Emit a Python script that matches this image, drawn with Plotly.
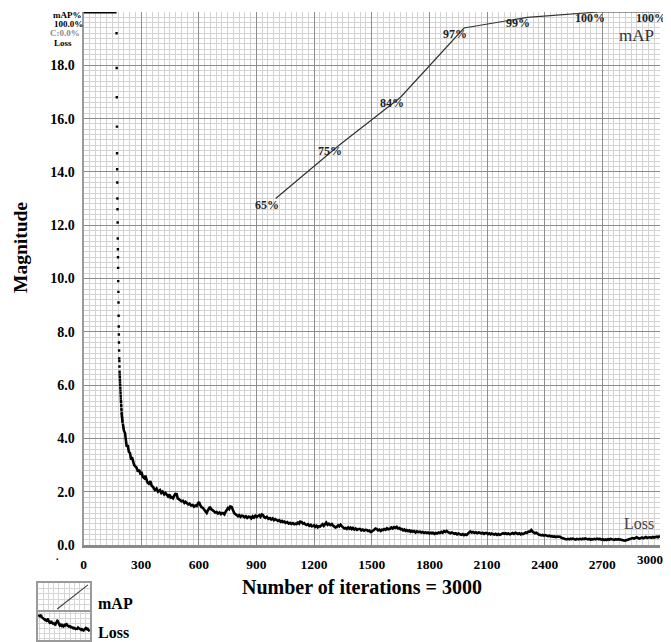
import plotly.graph_objects as go

# ---------------- data ----------------
x_ticks = [0, 300, 600, 900, 1200, 1500, 1800, 2100, 2400, 2700, 3000]
y_ticks = [0, 2, 4, 6, 8, 10, 12, 14, 16, 18]

# mAP evaluations (percent)
map_iters = [1000, 1330, 1650, 1980, 2310, 2680, 3000]
map_vals = [65, 75, 84, 97, 99, 100, 100]

# early loss values (drawn as separate dots)
dot_iters = [172.0, 172.6, 173.2, 173.9, 174.5, 175.1, 175.8, 176.4, 177.0, 177.7,
             178.3, 178.9, 179.6, 180.2, 180.8, 181.5, 182.1, 182.7, 183.4, 184.0,
             184.6, 185.3, 185.9, 186.5, 187.2, 187.8, 188.4, 189.1, 189.7, 190.3,
             191.0, 191.6, 192.2, 192.9, 193.5, 194.1, 194.8, 195.4, 196.0, 196.7,
             197.3, 197.9, 198.6, 199.2, 199.8, 200.5, 201.1, 201.7, 202.4, 203.0]
dot_vals = [19.2, 17.9, 16.8, 15.7, 14.7, 14.1, 13.6, 13.0, 12.6, 12.1,
            11.5, 11.1, 10.8, 10.4, 9.9, 9.5, 9.1, 8.6, 8.2, 7.9,
            7.6, 7.3, 7.0, 6.9, 6.7, 6.5, 6.4, 6.3, 6.2, 6.1,
            6.0, 5.9, 5.8, 5.7, 5.6, 5.5, 5.4, 5.35, 5.25, 5.2,
            5.1, 5.05, 4.95, 4.9, 4.85, 4.8, 4.75, 4.7, 4.65, 4.6]

loss_iters = [205, 210, 216, 220, 225, 230, 236, 242, 248, 252,
              258, 264, 270, 277, 283, 290, 296, 303, 309, 316,
              322, 328, 332, 340, 348, 355, 362, 368, 372, 380,
              388, 398, 405, 412, 420, 427, 433, 440, 447, 453,
              459, 466, 472, 478, 485, 490, 496, 502, 510, 518,
              525, 531, 537, 545, 552, 560, 568, 575, 582, 589,
              595, 601, 607, 614, 622, 628, 634, 641, 646, 652,
              658, 664, 670, 677, 685, 693, 700, 708, 715, 720,
              726, 733, 740, 746, 752, 758, 764, 771, 777, 784,
              790, 797, 804, 810, 817, 823, 830, 838, 845, 852,
              859, 866, 873, 880, 887, 894, 901, 908, 915, 921,
              928, 934, 940, 947, 954, 962, 970, 977, 984, 991,
              998, 1005, 1012, 1019, 1026, 1033, 1038, 1045, 1052, 1060,
              1068, 1075, 1082, 1090, 1097, 1103, 1109, 1116, 1122, 1128,
              1135, 1142, 1148, 1155, 1161, 1168, 1175, 1182, 1188, 1194,
              1200, 1206, 1213, 1219, 1225, 1231, 1238, 1244, 1250, 1257,
              1263, 1270, 1277, 1284, 1292, 1298, 1304, 1311, 1318, 1325,
              1331, 1338, 1344, 1350, 1357, 1363, 1370, 1377, 1384, 1390,
              1396, 1402, 1409, 1416, 1423, 1430, 1439, 1446, 1453, 1460,
              1467, 1474, 1481, 1488, 1494, 1500, 1507, 1514, 1520, 1526,
              1533, 1540, 1547, 1553, 1558, 1565, 1572, 1579, 1586, 1595,
              1602, 1609, 1616, 1623, 1630, 1637, 1644, 1650, 1656, 1663,
              1670, 1676, 1682, 1689, 1696, 1702, 1708, 1714, 1721, 1728,
              1735, 1742, 1751, 1758, 1765, 1772, 1779, 1786, 1793, 1800,
              1807, 1813, 1819, 1826, 1833, 1840, 1848, 1855, 1862, 1869,
              1876, 1883, 1890, 1897, 1904, 1910, 1917, 1923, 1930, 1937,
              1944, 1951, 1959, 1966, 1973, 1980, 1987, 1994, 2000, 2007,
              2013, 2020, 2027, 2035, 2042, 2049, 2056, 2063, 2070, 2077,
              2084, 2091, 2098, 2105, 2112, 2119, 2125, 2131, 2138, 2145,
              2152, 2159, 2167, 2174, 2183, 2190, 2197, 2204, 2211, 2219,
              2226, 2233, 2240, 2247, 2254, 2261, 2268, 2275, 2281, 2287,
              2294, 2301, 2308, 2315, 2323, 2330, 2337, 2343, 2349, 2356,
              2362, 2369, 2375, 2382, 2389, 2396, 2403, 2410, 2417, 2424,
              2431, 2437, 2443, 2450, 2457, 2464, 2471, 2480, 2487, 2494,
              2500, 2507, 2514, 2521, 2528, 2535, 2541, 2547, 2554, 2561,
              2568, 2576, 2584, 2591, 2598, 2605, 2611, 2618, 2625, 2632,
              2639, 2645, 2651, 2658, 2665, 2672, 2680, 2688, 2695, 2702,
              2709, 2716, 2722, 2729, 2736, 2742, 2749, 2755, 2762, 2769,
              2776, 2784, 2792, 2799, 2806, 2812, 2818, 2824, 2831, 2838,
              2844, 2851, 2858, 2865, 2872, 2879, 2886, 2893, 2900, 2906,
              2912, 2919, 2926, 2933, 2940, 2948, 2955, 2962, 2969, 2976,
              2983, 2990, 3000]
loss_vals = [4.55, 4.3, 4.2, 3.9, 3.68, 3.75, 3.5, 3.45, 3.2, 3.3,
             3.08, 3.0, 2.95, 2.89, 2.75, 2.82, 2.68, 2.70, 2.55, 2.51,
             2.6, 2.4, 2.36, 2.3, 2.4, 2.22, 2.18, 2.10, 2.06, 2.12,
             2.0, 2.06, 1.95, 2.0, 1.9, 1.95, 1.88, 1.82, 1.9, 1.78,
             1.80, 1.75, 1.85, 1.92, 1.91, 1.75, 1.72, 1.69, 1.64, 1.66,
             1.58, 1.62, 1.58, 1.52, 1.55, 1.48, 1.5, 1.44, 1.48, 1.46,
             1.55, 1.61, 1.5, 1.42, 1.39, 1.32, 1.25, 1.20, 1.28, 1.38,
             1.43, 1.35, 1.3, 1.28, 1.22, 1.24, 1.18, 1.22, 1.16, 1.2,
             1.20, 1.15, 1.25, 1.32, 1.39, 1.35, 1.45, 1.43, 1.3, 1.2,
             1.16, 1.13, 1.08, 1.12, 1.06, 1.1, 1.09, 1.04, 1.08, 1.02,
             1.06, 1.05, 1.0, 1.08, 1.03, 1.1, 1.05, 1.09, 1.12, 1.06,
             1.15, 1.13, 1.05, 1.02, 1.06, 0.98, 1.01, 0.96, 1.0, 0.93,
             0.97, 0.94, 0.9, 0.93, 0.87, 0.9, 0.86, 0.88, 0.83, 0.86,
             0.8, 0.83, 0.79, 0.82, 0.78, 0.8, 0.79, 0.84, 0.8, 0.88,
             0.86, 0.8, 0.82, 0.77, 0.75, 0.78, 0.72, 0.76, 0.7, 0.71,
             0.74, 0.68, 0.72, 0.66, 0.7, 0.69, 0.74, 0.78, 0.72, 0.79,
             0.84, 0.76, 0.8, 0.75, 0.79, 0.73, 0.7, 0.66, 0.68, 0.74,
             0.7, 0.76, 0.71, 0.66, 0.62, 0.64, 0.60, 0.66, 0.61, 0.65,
             0.6, 0.64, 0.58, 0.62, 0.57, 0.6, 0.6, 0.55, 0.58, 0.54,
             0.57, 0.56, 0.52, 0.54, 0.49, 0.5, 0.55, 0.58, 0.62, 0.6,
             0.55, 0.58, 0.53, 0.57, 0.56, 0.6, 0.57, 0.63, 0.59, 0.61,
             0.66, 0.62, 0.67, 0.64, 0.68, 0.62, 0.64, 0.59, 0.60, 0.55,
             0.58, 0.53, 0.56, 0.52, 0.55, 0.5, 0.53, 0.50, 0.52, 0.47,
             0.51, 0.48, 0.5, 0.47, 0.49, 0.45, 0.48, 0.45, 0.47, 0.43,
             0.46, 0.44, 0.46, 0.42, 0.45, 0.43, 0.47, 0.45, 0.49, 0.46,
             0.52, 0.49, 0.53, 0.48, 0.46, 0.44, 0.47, 0.45, 0.42, 0.44,
             0.4, 0.43, 0.41, 0.38, 0.41, 0.37, 0.4, 0.38, 0.42, 0.46,
             0.51, 0.47, 0.49, 0.45, 0.48, 0.44, 0.47, 0.46, 0.43, 0.46,
             0.42, 0.45, 0.45, 0.41, 0.44, 0.4, 0.43, 0.41, 0.39, 0.42,
             0.38, 0.41, 0.38, 0.41, 0.44, 0.42, 0.44, 0.41, 0.43, 0.40,
             0.43, 0.45, 0.42, 0.46, 0.44, 0.41, 0.44, 0.4, 0.43, 0.41,
             0.44, 0.47, 0.45, 0.5, 0.5, 0.56, 0.5, 0.47, 0.44, 0.46,
             0.41, 0.39, 0.38, 0.36, 0.38, 0.35, 0.37, 0.34, 0.33, 0.35,
             0.32, 0.33, 0.31, 0.32, 0.3, 0.32, 0.31, 0.31, 0.27, 0.25,
             0.23, 0.21, 0.21, 0.23, 0.21, 0.24, 0.22, 0.24, 0.22, 0.2,
             0.23, 0.21, 0.23, 0.21, 0.24, 0.22, 0.25, 0.24, 0.21, 0.23,
             0.2, 0.22, 0.21, 0.23, 0.21, 0.24, 0.22, 0.23, 0.2, 0.22,
             0.19, 0.21, 0.19, 0.22, 0.2, 0.23, 0.21, 0.21, 0.19, 0.22,
             0.2, 0.22, 0.21, 0.18, 0.2, 0.17, 0.16, 0.18, 0.2, 0.22,
             0.21, 0.24, 0.26, 0.24, 0.28, 0.29, 0.26, 0.24, 0.26, 0.28,
             0.25, 0.27, 0.3, 0.27, 0.29, 0.29, 0.27, 0.3, 0.28, 0.31,
             0.31, 0.29, 0.34]

# ---------------- layout helpers ----------------
# the page body adds an 8px offset, so the figure is drawn 8px smaller
OFF = 8
W, H = 671 - OFF, 642 - OFF
def fx(p):
    return (p - OFF) / W
def fy(p):
    return 1 - (p - OFF) / H

SERIF = "Liberation Serif"
MAJOR = "#8c8c8c"
MINOR = "#d3d3d3"

fig = go.Figure()

# main loss curve
fig.add_trace(go.Scatter(x=loss_iters, y=loss_vals, mode="lines",
                         line=dict(color="black", width=2.6),
                         xaxis="x", yaxis="y", showlegend=False, hoverinfo="skip"))
# early loss dots
fig.add_trace(go.Scatter(x=dot_iters, y=dot_vals, mode="markers",
                         marker=dict(color="black", size=2.4, symbol="square"),
                         xaxis="x", yaxis="y", showlegend=False, hoverinfo="skip"))
# mAP curve
fig.add_trace(go.Scatter(x=map_iters, y=map_vals, mode="lines",
                         line=dict(color="#333333", width=1.2),
                         xaxis="x", yaxis="y2", showlegend=False, hoverinfo="skip"))

# legend icon: mAP (diagonal sample)
fig.add_trace(go.Scatter(x=[0.37, 0.96], y=[0.04, 0.93], mode="lines",
                         line=dict(color="#444444", width=1.2),
                         xaxis="x3", yaxis="y3", showlegend=False, hoverinfo="skip"))
# legend icon: Loss (sample of the loss curve)
icon_x = [i for i in loss_iters if 430 <= i <= 1330]
icon_y = [v for i, v in zip(loss_iters, loss_vals) if 430 <= i <= 1330]
fig.add_trace(go.Scatter(x=icon_x, y=icon_y, mode="lines",
                         line=dict(color="black", width=2.4),
                         xaxis="x4", yaxis="y4", showlegend=False, hoverinfo="skip"))

xtickfont = dict(family=SERIF, size=13.5, color="black", weight="bold")
ytickfont = dict(family=SERIF, size=14, color="black", weight="bold")

icon_axis = dict(showticklabels=False, showgrid=True, gridcolor="#d6d6d6", gridwidth=1,
                 zeroline=False, showline=True, mirror=True, linecolor="#9a9a9a",
                 linewidth=1.5, ticks="", fixedrange=True, automargin=False)

# last x tick label is drawn separately so it is not dropped at the page edge
x_ticktext = [str(t) for t in x_ticks[:-1]] + [""]

fig.update_layout(
    width=W, height=H, autosize=False,
    margin=dict(l=0, r=0, t=0, b=0, autoexpand=False),
    paper_bgcolor="white", plot_bgcolor="white",
    xaxis=dict(domain=[fx(83.5), fx(660)], range=[0, 3000], anchor="y", automargin=False,
               tickmode="array", tickvals=x_ticks, ticktext=x_ticktext,
               showgrid=True, gridcolor=MAJOR, gridwidth=1.2,
               minor=dict(tick0=0, dtick=30, showgrid=True, gridcolor=MINOR, gridwidth=1),
               showline=True, linecolor="#8a8a8a", linewidth=2.5, zeroline=False,
               ticks="", tickfont=xtickfont, ticklabelstandoff=5),
    yaxis=dict(domain=[fy(545), fy(12)], range=[0, 20], anchor="x", automargin=False,
               tickmode="array", tickvals=y_ticks, ticktext=["%.1f" % t for t in y_ticks],
               showgrid=True, gridcolor=MAJOR, gridwidth=1.2,
               minor=dict(tick0=0, dtick=0.2, showgrid=True, gridcolor=MINOR, gridwidth=1),
               showline=True, linecolor="#9a9a9a", linewidth=2, zeroline=False,
               ticks="", tickfont=ytickfont, ticklabelstandoff=4),
    yaxis2=dict(overlaying="y", anchor="x", range=[0, 100], visible=False, automargin=False),
    xaxis3=dict(domain=[fx(38), fx(90)], range=[0, 1], dtick=0.1, anchor="y3", **icon_axis),
    yaxis3=dict(domain=[fy(610), fy(583)], range=[0, 1], dtick=0.2, anchor="x3", **icon_axis),
    xaxis4=dict(domain=[fx(38), fx(90)], range=[430, 1330], dtick=90, anchor="y4", **icon_axis),
    yaxis4=dict(domain=[fy(640), fy(612)], range=[-0.1, 2.14], dtick=0.4, anchor="x4", **icon_axis),
)

# thick segment at top-left (before the first logged iteration)
fig.add_shape(type="line", xref="x", yref="y2", x0=0, x1=dot_iters[0],
              y0=max(map_vals), y1=max(map_vals), line=dict(color="black", width=3))

ann = []
# mAP value labels
for it, v in zip(map_iters, map_vals):
    ann.append(dict(x=it, y=v, xref="x", yref="y2", text=f"{v}%", showarrow=False,
                    xshift=-9, yshift=-6,
                    font=dict(family=SERIF, size=12, color="#222222", weight="bold")))

# last x tick label
ann.append(dict(x=x_ticks[-1], y=fy(559), xref="x", yref="paper", text=str(x_ticks[-1]),
                showarrow=False, xanchor="right", yanchor="middle", xshift=5,
                font=dict(family=SERIF, size=13, color="black", weight="bold")))

def ptext(text, x, y, size, bold=False, color="black", xanchor="center", angle=0):
    ann.append(dict(x=fx(x), y=fy(y), xref="paper", yref="paper", text=text,
                    showarrow=False, xanchor=xanchor, yanchor="middle", textangle=angle,
                    font=dict(family=SERIF, size=size, color=color,
                              weight="bold" if bold else "normal")))

ptext("mAP", 636, 36, 17, color="#333333")
ptext("Loss", 639, 523, 16, color="#444444")
ptext("Magnitude", 20, 248, 19.5, bold=True, angle=-90)
ptext("Number of iterations = 3000", 362, 587, 20, bold=True)
ptext("mAP%", 67, 15, 9, bold=True)
ptext("100.0%", 68, 24, 9, bold=True)
ptext("C:0.0%", 65, 33, 9, bold=True, color="#8a8a8a")
ptext("Loss", 63, 43, 9, bold=True)
ptext(".", 57, 556, 10, bold=True)
ptext("mAP", 96, 603, 16, bold=True, xanchor="left")
ptext("Loss", 96, 632, 16, bold=True, xanchor="left")

fig.update_layout(annotations=ann)

fig.write_html("out.html")
